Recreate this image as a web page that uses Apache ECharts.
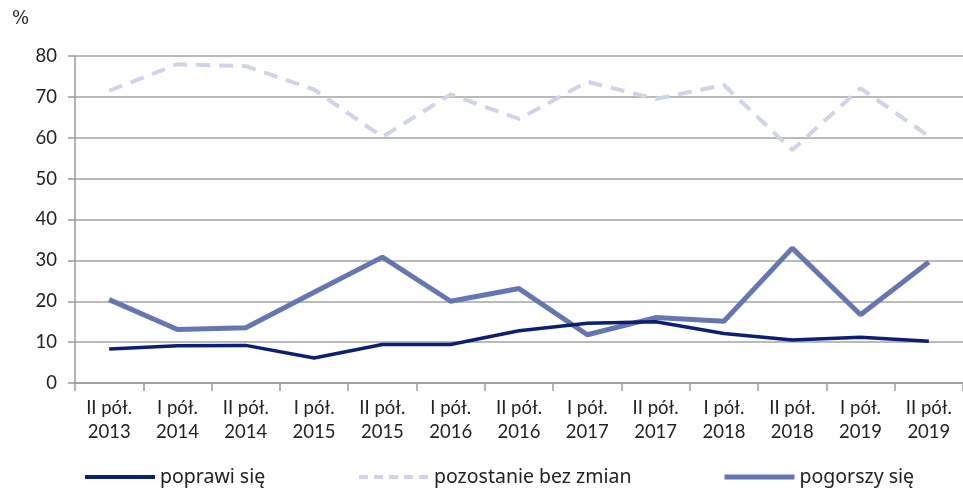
<!DOCTYPE html>
<html>
<head>
<meta charset="utf-8">
<script src="https://cdn.jsdelivr.net/npm/echarts@6/dist/echarts.min.js"></script>
<style>
  html, body { margin: 0; padding: 0; background: #fff; }
  #chart { width: 963px; height: 488px; }
</style>
</head>
<body>
<div id="chart"></div>
<script>
var categories = ['II pół.\n2013', 'I pół.\n2014', 'II pół.\n2014', 'I pół.\n2015', 'II pół.\n2015', 'I pół.\n2016',
  'II pół.\n2016', 'I pół.\n2017', 'II pół.\n2017', 'I pół.\n2018', 'II pół.\n2018', 'I pół.\n2019', 'II pół.\n2019'];
var poprawi = [8.3, 9.1, 9.2, 6.1, 9.4, 9.4, 12.8, 14.6, 15.0, 12.1, 10.5, 11.2, 10.2];
var bezZmian = [71.5, 78.0, 77.5, 71.8, 60.2, 70.6, 64.6, 73.7, 69.5, 72.9, 57.0, 72.1, 60.4];
var pogorszy = [20.4, 13.1, 13.5, 22.2, 30.8, 20.0, 23.1, 11.8, 16.0, 15.1, 33.0, 16.7, 29.6];
var yTicks = [0, 80, 10];

var myChart = echarts.init(document.getElementById('chart'));
var font = 'Lato, "Noto Sans", sans-serif';
var legendFont = '"Noto Sans", sans-serif';

function legendFor(name, x, color, width, type) {
  return {
    data: [name], left: x, top: 467, padding: 0, itemWidth: 70, itemHeight: 14, itemGap: 0,
    itemStyle: { opacity: 0 },
    lineStyle: { color: color, width: width, type: type },
    textStyle: { fontSize: 19.5, color: '#222', fontFamily: legendFont }
  };
}

var option = {
  animation: false,
  textStyle: { fontFamily: font },
  graphic: [{
    type: 'text', left: 12, top: 10,
    style: { text: '%', fontSize: 18, fill: '#222', fontFamily: '"DejaVu Serif", serif' }
  }],
  legend: [
    legendFor('poprawi się', 83, '#0b1f73', 4, 'solid'),
    legendFor('pozostanie bez zmian', 357, '#cfd4e6', 4, [9, 6]),
    legendFor('pogorszy się', 722, '#6576b0', 5, 'solid')
  ],
  grid: { left: 75, right: 0, top: 56, bottom: 105, containLabel: false },
  xAxis: {
    type: 'category',
    data: categories,
    boundaryGap: true,
    axisLine: { lineStyle: { color: '#9a9a9a', width: 1.5 } },
    axisTick: { show: true, length: 8, lineStyle: { color: '#9a9a9a', width: 1.5 } },
    axisLabel: { color: '#222', fontSize: 18.5, lineHeight: 24, margin: 13, interval: 0, fontFamily: font }
  },
  yAxis: {
    type: 'value',
    min: yTicks[0], max: yTicks[1], interval: yTicks[2],
    axisLine: { show: true, lineStyle: { color: '#9a9a9a', width: 1.5 } },
    axisTick: { show: true, length: 7, lineStyle: { color: '#9a9a9a', width: 1.5 } },
    axisLabel: { color: '#222', fontSize: 18.5, margin: 18, fontFamily: font },
    splitLine: { lineStyle: { color: '#a3a3a3', width: 1.5 } }
  },
  series: [
    {
      name: 'poprawi się', type: 'line', data: poprawi,
      symbol: 'none', itemStyle: { color: '#0b1f73' },
      lineStyle: { color: '#0b1f73', width: 3.5 }, z: 3
    },
    {
      name: 'pozostanie bez zmian', type: 'line', data: bezZmian,
      symbol: 'none', itemStyle: { color: '#cfd4e6' },
      lineStyle: { color: '#cfd4e6', width: 4, type: [14, 9] }, z: 2
    },
    {
      name: 'pogorszy się', type: 'line', data: pogorszy,
      symbol: 'none', itemStyle: { color: '#6576b0' },
      lineStyle: { color: '#6576b0', width: 5 }, z: 2
    }
  ]
};

myChart.setOption(option);
window.onresize = myChart.resize;
</script>
</body>
</html>
